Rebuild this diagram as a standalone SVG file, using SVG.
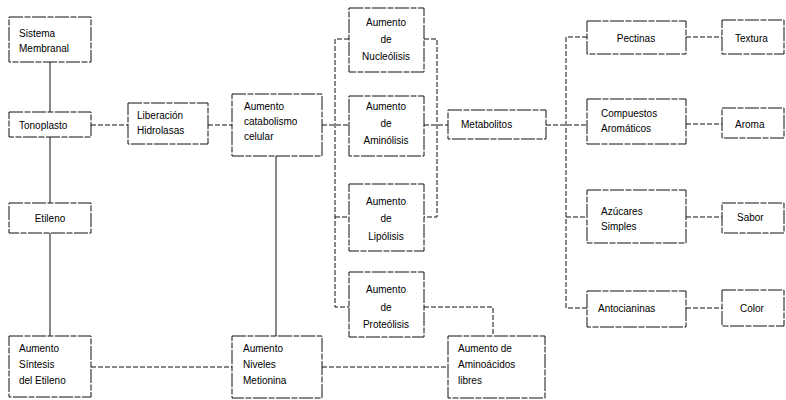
<svg xmlns="http://www.w3.org/2000/svg" width="786" height="400" viewBox="0 0 786 400">
<style>
.b{fill:#fff;stroke:#111;stroke-width:1;stroke-dasharray:14 1.5 6 1.5}
.t{font-family:"Liberation Sans",Arial,sans-serif;font-size:10px;fill:#000}
.c{text-anchor:middle}
.s{fill:none;stroke:#111;stroke-width:1}
.d{fill:none;stroke:#111;stroke-width:1;stroke-dasharray:5 2}
</style>
<rect width="786" height="400" fill="#fff"/>
<g id="connectors">
<path class="s" d="M50 62V112M50 137V203M50 233V336M276 156V336"/>
<path class="d" d="M91 125H128M208 125H232M322 125H349M424 125H448M546 125H587"/>
<path class="d" d="M349 39H335V307H349M335 217H349M424 39H437V217H424"/>
<path class="d" d="M587 37H566V308H587M566 217H587"/>
<path class="d" d="M686 37H722M686 124H722M686 217H722M686 308H722"/>
<path class="d" d="M424 307H493V336"/>
<path class="d" d="M91 367H232M322 367H448"/>
</g>
<g id="sistema"><rect class="b" x="9" y="17" width="82" height="45"/><text class="t" x="19" y="37">Sistema</text><text class="t" x="19" y="52">Membranal</text></g>
<g id="tonoplasto"><rect class="b" x="9" y="112" width="82" height="25"/><text class="t" x="19" y="129">Tonoplasto</text></g>
<g id="liberacion"><rect class="b" x="128" y="103" width="80" height="41"/><text class="t" x="137" y="119">Liberación</text><text class="t" x="137" y="134">Hidrolasas</text></g>
<g id="catabolismo"><rect class="b" x="232" y="94" width="90" height="62"/><text class="t" x="244" y="110">Aumento</text><text class="t" x="244" y="125">catabolismo</text><text class="t" x="244" y="140">celular</text></g>
<g id="nucleolisis"><rect class="b" x="349" y="8" width="75" height="64"/><text class="t c" x="386" y="26">Aumento</text><text class="t c" x="386" y="43">de</text><text class="t c" x="386" y="60">Nucleólisis</text></g>
<g id="aminolisis"><rect class="b" x="349" y="96" width="75" height="60"/><text class="t c" x="386" y="110">Aumento</text><text class="t c" x="386" y="127">de</text><text class="t c" x="386" y="144">Aminólisis</text></g>
<g id="lipolisis"><rect class="b" x="349" y="184" width="75" height="67"/><text class="t c" x="386" y="205">Aumento</text><text class="t c" x="386" y="222">de</text><text class="t c" x="386" y="240">Lipólisis</text></g>
<g id="proteolisis"><rect class="b" x="349" y="272" width="75" height="65"/><text class="t c" x="386" y="293">Aumento</text><text class="t c" x="386" y="311">de</text><text class="t c" x="386" y="328">Proteólisis</text></g>
<g id="metabolitos"><rect class="b" x="448" y="110" width="98" height="29"/><text class="t" x="461" y="128">Metabolitos</text></g>
<g id="pectinas"><rect class="b" x="587" y="21" width="99" height="33"/><text class="t c" x="636" y="42">Pectinas</text></g>
<g id="textura"><rect class="b" x="722" y="20" width="62" height="34"/><text class="t" x="735" y="42">Textura</text></g>
<g id="compuestos"><rect class="b" x="587" y="99" width="99" height="45"/><text class="t" x="601" y="117">Compuestos</text><text class="t" x="601" y="132">Aromáticos</text></g>
<g id="aroma"><rect class="b" x="722" y="108" width="62" height="30"/><text class="t" x="735" y="128">Aroma</text></g>
<g id="azucares"><rect class="b" x="587" y="190" width="99" height="53"/><text class="t" x="601" y="215">Azúcares</text><text class="t" x="601" y="230">Simples</text></g>
<g id="sabor"><rect class="b" x="722" y="203" width="62" height="30"/><text class="t" x="737" y="221">Sabor</text></g>
<g id="antocianinas"><rect class="b" x="587" y="291" width="99" height="36"/><text class="t" x="598" y="312">Antocianinas</text></g>
<g id="color"><rect class="b" x="722" y="290" width="62" height="36"/><text class="t" x="740" y="312">Color</text></g>
<g id="etileno"><rect class="b" x="9" y="203" width="82" height="30"/><text class="t c" x="50" y="222">Etileno</text></g>
<g id="sintesis"><rect class="b" x="9" y="336" width="82" height="61"/><text class="t" x="19" y="352">Aumento</text><text class="t" x="19" y="368">Síntesis</text><text class="t" x="19" y="384">del Etileno</text></g>
<g id="metionina"><rect class="b" x="232" y="336" width="90" height="62"/><text class="t" x="243" y="352">Aumento</text><text class="t" x="243" y="368">Niveles</text><text class="t" x="243" y="384">Metionina</text></g>
<g id="aminoacidos"><rect class="b" x="448" y="336" width="97" height="62"/><text class="t" x="458" y="352">Aumento de</text><text class="t" x="458" y="368">Aminoácidos</text><text class="t" x="458" y="384">libres</text></g>
</svg>
